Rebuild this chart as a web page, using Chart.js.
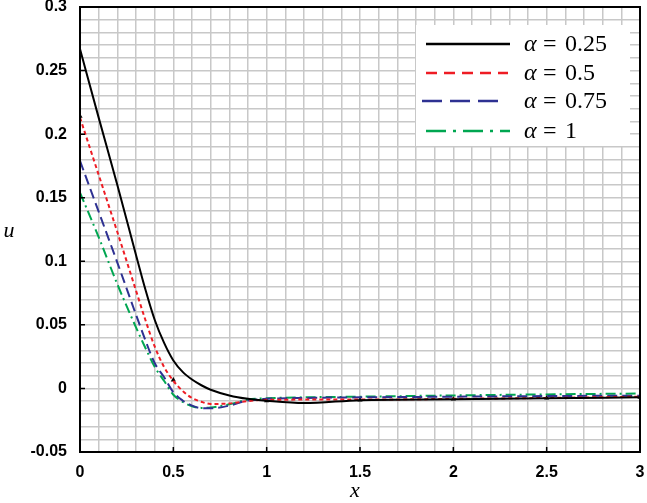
<!DOCTYPE html>
<html>
<head>
<meta charset="utf-8">
<script src="https://cdn.jsdelivr.net/npm/chart.js@4/dist/chart.umd.min.js"></script>
<style>
  html, body { margin: 0; padding: 0; background: #fff; }
  #wrap { width: 647px; height: 503px; }
</style>
</head>
<body>
<div id="wrap"><canvas id="chart" width="647" height="503"></canvas></div>
<script>
const xs = [0, 0.1, 0.2, 0.3, 0.35, 0.4, 0.45, 0.5, 0.55, 0.6, 0.65, 0.7, 0.8, 0.9, 1, 1.2, 1.5, 2, 2.5, 3];
const alpha025 = [0.267, 0.213, 0.160, 0.105, 0.078, 0.054, 0.036, 0.022, 0.013, 0.007, 0.0025, -0.001, -0.0055, -0.0082, -0.0097, -0.0115, -0.0092, -0.0085, -0.0078, -0.007];
const alpha05 = [0.213, 0.168, 0.123, 0.077, 0.054, 0.033, 0.017, 0.006, -0.002, -0.0075, -0.0105, -0.0122, -0.0118, -0.0099, -0.009, -0.0088, -0.0088, -0.0082, -0.0075, -0.0065];
const alpha075 = [0.179, 0.139, 0.099, 0.058, 0.038, 0.020, 0.009, -0.003, -0.0095, -0.0135, -0.0155, -0.0156, -0.0135, -0.0095, -0.0082, -0.0075, -0.007, -0.0065, -0.006, -0.0057];
const alpha1 = [0.154, 0.119, 0.082, 0.048, 0.032, 0.017, 0.006, -0.005, -0.0105, -0.014, -0.0153, -0.015, -0.0125, -0.0088, -0.0078, -0.007, -0.0065, -0.0055, -0.0047, -0.004];
const markX = [0, 0.5, 1, 1.5, 2, 2.5, 3];
const markY = [0.214, 0.0066, -0.0097, -0.0091, -0.0083, -0.0076, -0.007];
const legendLabels = ['0.25', '0.5', '0.75', '1'];

function pts(xv, yv) { return xv.map((x, i) => ({ x: x, y: yv[i] })); }

const series = [
  { label: legendLabels[0], data: pts(xs, alpha025), color: '#000000', dash: [], legDash: [] },
  { label: legendLabels[1], data: pts(xs, alpha05), color: '#ee1c24', dash: [4, 3], legDash: [11, 7] },
  { label: legendLabels[2], data: pts(xs, alpha075), color: '#2e3192', dash: [10, 5], legDash: [20, 8] },
  { label: legendLabels[3], data: pts(xs, alpha1), color: '#00a651', dash: [10, 4, 2, 4], legDash: [20, 7, 3, 7] }
];

const datasets = series.map(s => ({
  label: s.label,
  data: s.data,
  borderColor: s.color,
  backgroundColor: s.color,
  borderWidth: 2,
  borderDash: s.dash,
  pointRadius: 0,
  fill: false,
  cubicInterpolationMode: 'monotone'
}));
datasets.push({
  label: 'marks',
  data: pts(markX, markY),
  showLine: false,
  pointStyle: 'triangle',
  pointRadius: 3,
  borderWidth: 0,
  backgroundColor: '#000',
  borderColor: '#000'
});

const decor = {
  id: 'decor',
  afterDraw(chart) {
    const ctx = chart.ctx;
    const a = chart.chartArea;
    const xs_ = chart.scales.x, ys_ = chart.scales.y;
    ctx.save();
    // frame
    ctx.strokeStyle = '#000';
    ctx.lineWidth = 2;
    ctx.strokeRect(a.left, a.top, a.right - a.left, a.bottom - a.top);
    // inner tick marks
    ctx.lineWidth = 1.5;
    ctx.beginPath();
    for (let v = 0; v <= 6; v++) {
      const px = xs_.getPixelForValue(v * 0.5);
      ctx.moveTo(px, a.bottom); ctx.lineTo(px, a.bottom - 5);
    }
    for (let v = -1; v <= 6; v++) {
      const py = ys_.getPixelForValue(v * 0.05);
      ctx.moveTo(a.left, py); ctx.lineTo(a.left + 5, py);
    }
    ctx.stroke();
    // axis titles
    ctx.fillStyle = '#000';
    ctx.font = 'italic 22px "Liberation Serif", "DejaVu Serif", serif';
    ctx.textAlign = 'center';
    ctx.textBaseline = 'alphabetic';
    ctx.fillText('u', 9, 237);
    ctx.fillText('x', 355, 497);
    // legend
    ctx.fillStyle = '#fff';
    ctx.fillRect(416, 25, 214, 121);
    const rows = [44, 73, 101, 131];
    const starts = [426, 426, 422, 426];
    const ends = [510, 508, 498, 510];
    series.forEach((s, i) => {
      ctx.strokeStyle = s.color;
      ctx.lineWidth = 2.5;
      ctx.setLineDash(s.legDash);
      ctx.beginPath();
      ctx.moveTo(starts[i], rows[i]);
      ctx.lineTo(ends[i], rows[i]);
      ctx.stroke();
      ctx.setLineDash([]);
      ctx.fillStyle = '#000';
      ctx.textAlign = 'left';
      ctx.font = 'italic 24px "Liberation Serif", serif';
      ctx.fillText('\u03b1', 524, rows[i] + 7);
      ctx.font = '24px "Liberation Serif", serif';
      ctx.fillText('=', 543, rows[i] + 7);
      ctx.fillText(s.label, 565, rows[i] + 7);
    });
    ctx.restore();
  }
};

const tickFont = { family: '"Liberation Sans", Arial, sans-serif', size: 16, weight: 'bold' };

new Chart(document.getElementById('chart'), {
  type: 'line',
  data: { datasets: datasets },
  options: {
    responsive: false,
    animation: false,
    layout: { padding: { top: 7, right: 7, left: 0, bottom: 0 } },
    plugins: { legend: { display: false }, tooltip: { enabled: false } },
    scales: {
      x: {
        type: 'linear',
        min: 0, max: 3,
        afterFit(scale) { scale.height = 51; scale.paddingLeft = 0; scale.paddingRight = 0; },
        afterBuildTicks(scale) {
          const t = [];
          for (let i = 0; i <= 30; i++) t.push({ value: i / 10 });
          scale.ticks = t;
        },
        grid: { color: '#c8c8c8', lineWidth: 1.5, drawTicks: false },
        border: { display: false },
        ticks: {
          color: '#000', font: tickFont, padding: 11, maxRotation: 0, autoSkip: false,
          callback(v) { return Math.round(v * 10) % 5 === 0 ? String(Math.round(v * 10) / 10) : ''; }
        }
      },
      y: {
        min: -0.05, max: 0.3,
        afterFit(scale) { scale.width = 80; scale.paddingTop = 0; scale.paddingBottom = 0; },
        afterBuildTicks(scale) {
          const t = [];
          for (let i = -5; i <= 30; i++) t.push({ value: i / 100 });
          scale.ticks = t;
        },
        grid: { color: '#c8c8c8', lineWidth: 1.5, drawTicks: false },
        border: { display: false },
        ticks: {
          color: '#000', font: tickFont, padding: 13, autoSkip: false,
          callback(v) {
            const k = Math.round(v * 100);
            return k % 5 === 0 ? String(k / 100) : '';
          }
        }
      }
    }
  },
  plugins: [decor]
});
</script>
</body>
</html>
